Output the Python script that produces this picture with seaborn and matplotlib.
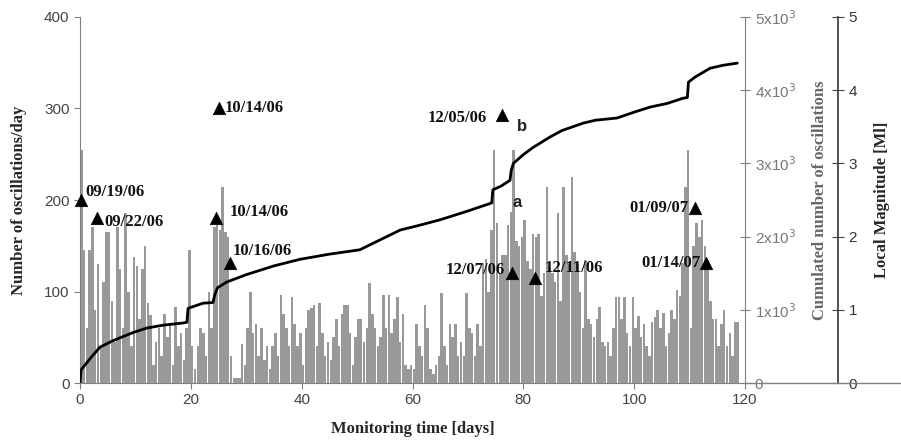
import numpy as np
import pandas as pd
import seaborn as sns
import matplotlib.pyplot as plt
from matplotlib.lines import Line2D

# daily oscillation counts, sampled every half day (days 0 .. 118.5)
counts = [
    255, 145, 60, 145, 170, 80, 130, 40, 110, 165, 165, 90, 45, 170, 125, 60, 186, 100, 40, 138,
    128, 70, 125, 150, 87, 74, 20, 45, 60, 30, 75, 50, 65, 20, 83, 40, 55, 25, 60, 145,
    40, 15, 40, 60, 55, 30, 100, 60, 170, 180, 167, 214, 165, 160, 30, 5, 5, 5, 43, 20,
    60, 100, 55, 65, 30, 60, 25, 40, 15, 40, 55, 30, 96, 75, 60, 40, 94, 65, 40, 55,
    20, 60, 80, 82, 85, 40, 87, 55, 30, 45, 25, 50, 70, 40, 75, 85, 85, 55, 20, 50,
    70, 70, 45, 60, 109, 75, 60, 40, 50, 96, 60, 96, 55, 70, 94, 45, 75, 20, 15, 20,
    15, 65, 40, 30, 85, 60, 15, 10, 20, 30, 98, 40, 20, 65, 50, 65, 30, 45, 30, 98,
    60, 55, 30, 65, 40, 131, 135, 100, 167, 255, 175, 120, 140, 140, 173, 187, 255, 155, 150, 160,
    178, 133, 125, 163, 160, 163, 95, 120, 214, 127, 120, 110, 186, 90, 214, 140, 130, 225, 143, 130,
    100, 60, 134, 70, 65, 50, 70, 83, 45, 40, 45, 30, 60, 94, 94, 70, 94, 55, 40, 94,
    60, 73, 50, 65, 40, 30, 67, 72, 80, 60, 77, 40, 55, 80, 70, 102, 95, 131, 214, 255,
    60, 150, 175, 160, 178, 150, 125, 90, 70, 70, 40, 65, 80, 40, 55, 30, 67, 67,
]
days = [i * 0.5 for i in range(len(counts))]

# cumulated number of oscillations
cum_days = [0, 0.2, 2, 3.6, 6, 9.6, 12, 15, 18.6, 19.3, 19.5, 22.2, 24, 24.3, 24.8, 26.5,
            30, 35, 39.7, 45, 50.5, 54, 57.8, 61, 65, 70, 74.3, 74.5, 76, 77.6, 77.8, 78.2,
            80, 81.8, 84.8, 87, 90.8, 93, 96.9, 100, 102.9, 106, 108.8, 109.6, 109.8, 111,
            113.7, 116, 118.6]
cum_vals = [0, 180, 350, 490, 580, 690, 750, 790, 820, 830, 1020, 1090, 1100, 1200, 1300, 1380,
            1480, 1600, 1690, 1760, 1820, 1950, 2090, 2150, 2230, 2350, 2460, 2640, 2690, 2770,
            2900, 3000, 3120, 3220, 3360, 3450, 3550, 3590, 3620, 3700, 3770, 3820, 3890, 3900,
            4110, 4180, 4300, 4340, 4370]

# earthquakes: day, local magnitude, date label
eq_days = [0.2, 3, 25.1, 24.5, 27.1, 76.2, 78, 82.1, 111, 113]
eq_mag = [2.50, 2.25, 3.76, 2.25, 1.64, 3.66, 1.50, 1.43, 2.39, 1.64]
eq_labels = ['09/19/06', '09/22/06', '10/14/06', '10/14/06', '10/16/06',
             '12/05/06', '12/07/06', '12/11/06', '01/09/07', '01/14/07']
# label offsets in pixels and alignment
eq_off = [(4, 8, 'left'), (8, -4, 'left'), (6, 0, 'left'), (14, 6, 'left'), (2, 12, 'left'),
          (-15, -3, 'right'), (-7, 3, 'right'), (10, 10, 'left'), (-7, 0, 'right'), (-6, 0, 'right')]

sns.set_style('white')
plt.rcParams['font.family'] = ['Liberation Sans', 'DejaVu Sans']

serif = dict(family='Liberation Serif', fontweight='bold')
grey = '#999999'
spine_c = '#808080'

fig = plt.figure(figsize=(9.01, 4.40), dpi=100)
ax = fig.add_axes([80 / 901, 57 / 440, 665 / 901, 366 / 440])

osc = pd.DataFrame({'day': days, 'count': counts})
edges = [i * 0.5 for i in range(len(counts) + 1)]
sns.histplot(data=osc, x='day', weights='count', bins=edges, ax=ax, color=grey, alpha=1,
             linewidth=0, shrink=0.9)
ax.set_xlim(0, 120)
ax.set_ylim(0, 400)
ax.set_xticks(range(0, 121, 20))
ax.set_yticks(range(0, 401, 100))
ax.set_xlabel('Monitoring time [days]', fontsize=12, labelpad=10, **serif)
ax.set_ylabel('Number of oscillations/day', fontsize=12, labelpad=12, **serif)
for s in ['top', 'right']:
    ax.spines[s].set_visible(False)
for s in ['left', 'bottom']:
    ax.spines[s].set_color(spine_c)
ax.tick_params(axis='both', colors=spine_c, labelcolor='#444444', labelsize=11,
               length=4, direction='out', left=True, bottom=True)
ax.text(78.9, 197, 'a', fontsize=12, fontweight='bold', color='#222222', ha='center', va='center')
ax.text(79.8, 280, 'b', fontsize=12, fontweight='bold', color='#222222', ha='center', va='center')

# cumulated line
ax2 = ax.twinx()
sns.lineplot(x=cum_days, y=cum_vals, ax=ax2, color='black', linewidth=2)
ax2.set_ylim(0, 5000)
ax2.set_yticks(range(0, 5001, 1000))
ax2.set_yticklabels(['0'] + [f'{i}x10$^3$' for i in range(1, 6)])
for s in ['top', 'left', 'bottom']:
    ax2.spines[s].set_visible(False)
ax2.spines['right'].set_color(spine_c)
ax2.tick_params(axis='y', colors=spine_c, labelcolor='#777777', labelsize=11,
                direction='inout', length=7, right=True)
ax2.set_ylabel('Cumulated number of oscillations', fontsize=12, color='#666666',
               labelpad=12, **serif)

# earthquakes
ax3 = ax.twinx()
ax3.spines['right'].set_position(('axes', (838 - 80) / 665))
sns.scatterplot(x=eq_days, y=eq_mag, ax=ax3, marker='^', s=80, color='black',
                edgecolor='black', linewidth=0.5, zorder=5, clip_on=False)
for d, m, lab, (dx, dy, ha) in zip(eq_days, eq_mag, eq_labels, eq_off):
    ax3.annotate(lab, (d, m), xytext=(dx * 0.72, dy * 0.72), textcoords='offset points',
                 ha=ha, va='center', fontsize=12, color='#111111', **serif)
ax3.set_ylim(0, 5)
ax3.set_yticks(range(0, 6))
for s in ['top', 'left', 'bottom']:
    ax3.spines[s].set_visible(False)
ax3.spines['right'].set_color('#444444')
ax3.spines['right'].set_linewidth(1.3)
ax3.tick_params(axis='y', colors='#444444', labelcolor='#333333', labelsize=11,
                direction='inout', length=8, right=True)
ax3.set_ylabel('Local Magnitude [Ml]', fontsize=12, labelpad=12, **serif)

# bottom axis line continues to the right edge
fig.add_artist(Line2D([745 / 901, 1], [57 / 440, 57 / 440], color=spine_c, linewidth=1))

fig.savefig('out.png', dpi=100)
